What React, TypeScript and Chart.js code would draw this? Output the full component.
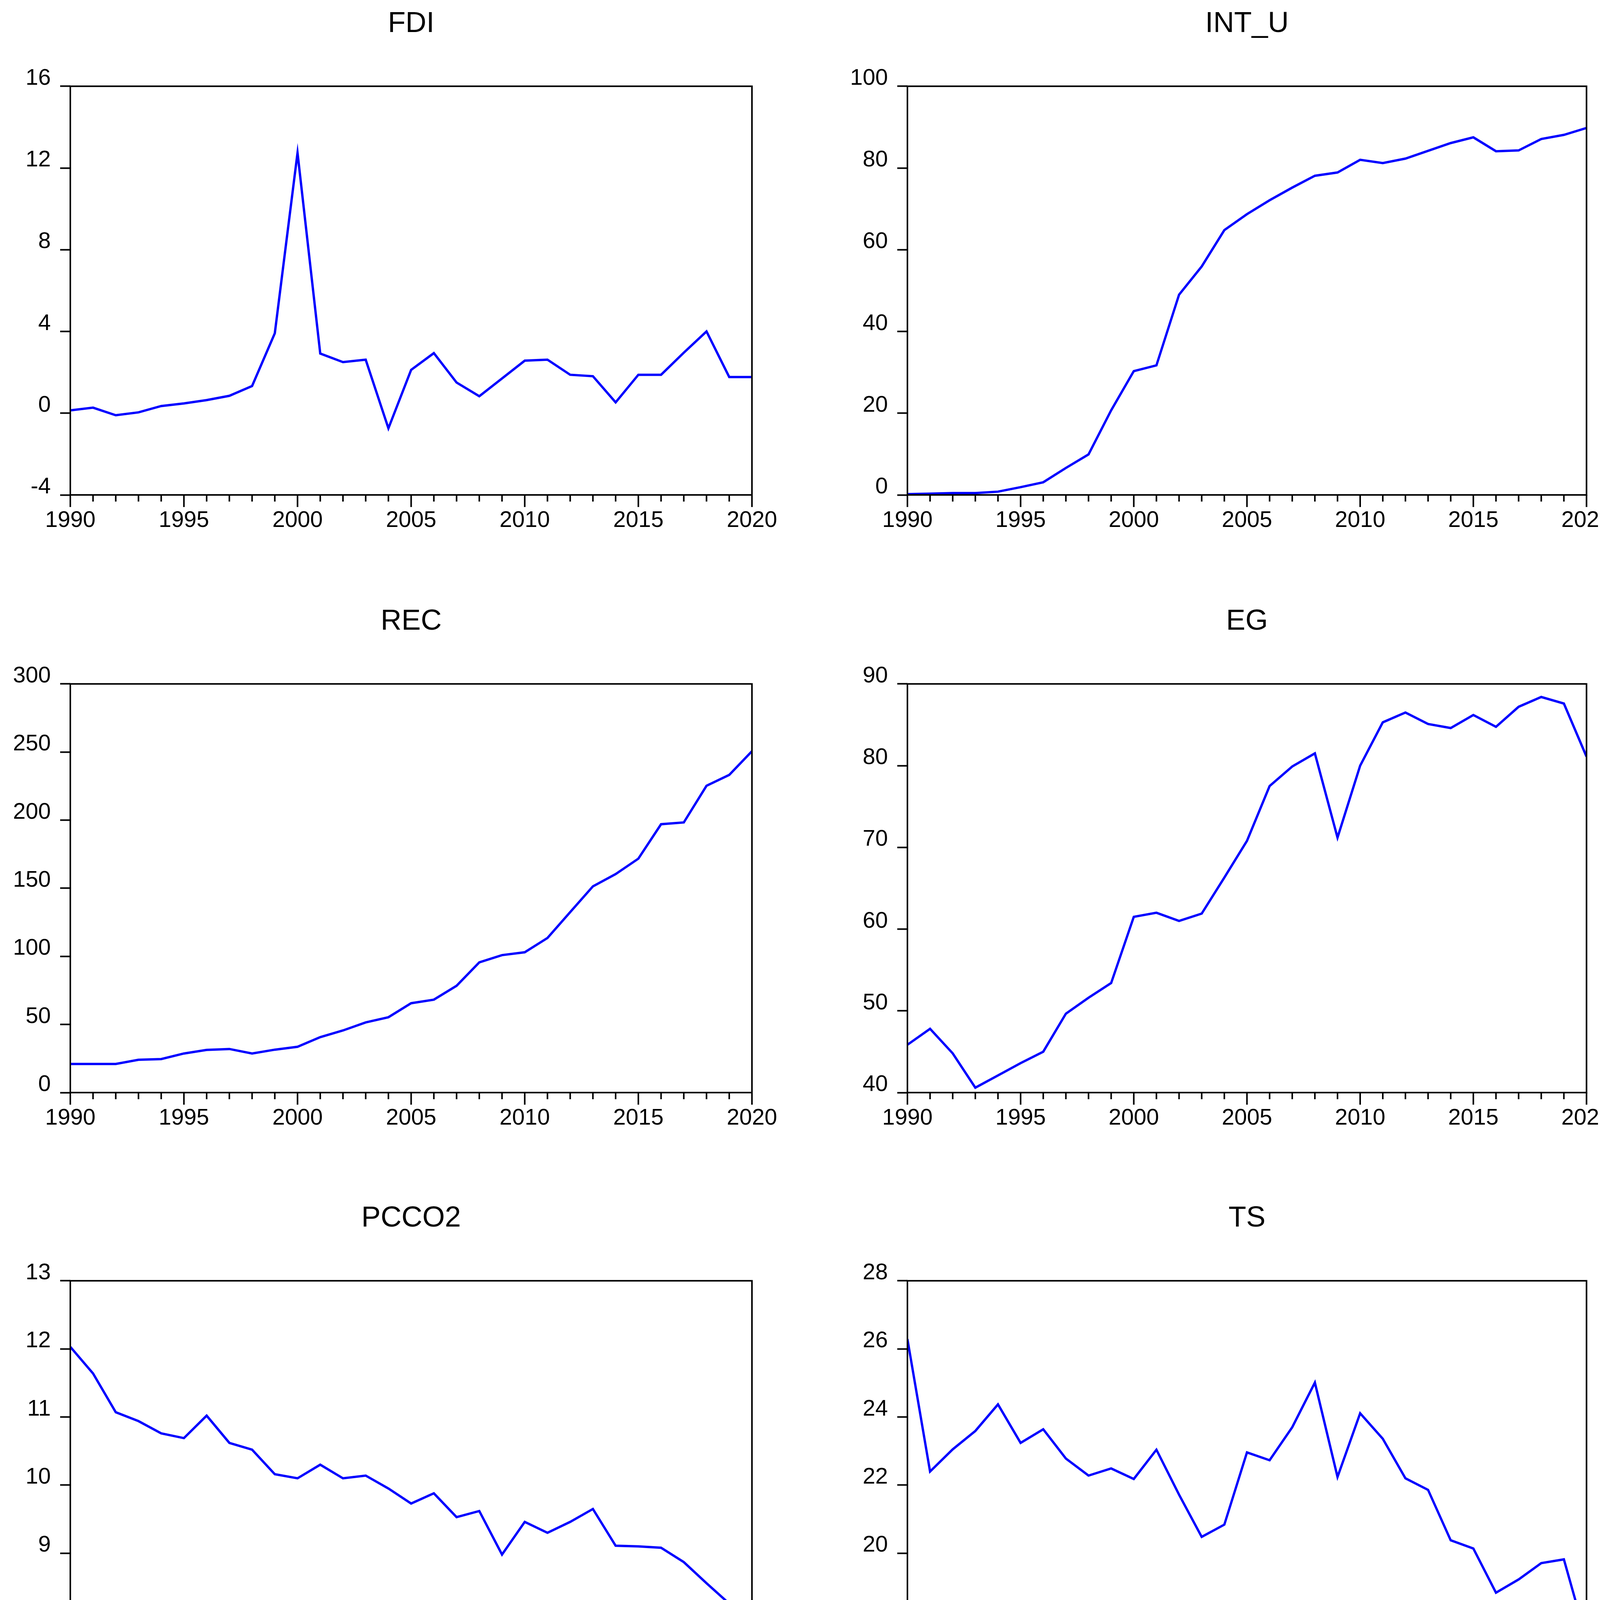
import React, { useEffect, useRef } from "react";
import { Chart, registerables } from "chart.js";

Chart.register(...registerables);

// ---------- data ----------
const YEARS = [
  1990, 1991, 1992, 1993, 1994, 1995, 1996, 1997, 1998, 1999, 2000, 2001, 2002, 2003, 2004, 2005,
  2006, 2007, 2008, 2009, 2010, 2011, 2012, 2013, 2014, 2015, 2016, 2017, 2018, 2019, 2020,
];

const FDI = [
  0.14, 0.27, -0.1, 0.04, 0.35, 0.48, 0.64, 0.85, 1.33, 3.91, 12.74, 2.92, 2.5, 2.62, -0.74, 2.12,
  2.94, 1.5, 0.83, 1.7, 2.57, 2.62, 1.88, 1.81, 0.53, 1.88, 1.88, 2.96, 4.0, 1.77, 1.77,
];
const INT_U = [
  0.2, 0.3, 0.45, 0.45, 0.8, 1.9, 3.1, 6.6, 9.9, 20.7, 30.3, 31.7, 49.0, 55.9, 64.8, 68.7, 72.1,
  75.2, 78.1, 78.9, 82.0, 81.2, 82.3, 84.2, 86.1, 87.5, 84.1, 84.3, 87.1, 88.1, 89.8,
];
const REC = [
  21.0, 21.0, 21.0, 24.1, 24.6, 28.7, 31.3, 32.0, 28.7, 31.5, 33.6, 40.7, 45.6, 51.5, 55.3, 65.6,
  68.2, 78.4, 95.6, 100.9, 103.0, 113.5, 132.5, 151.4, 160.4, 171.7, 197.0, 198.3, 225.2, 233.2,
  250.6,
];
const EG = [
  45.85, 47.8, 44.8, 40.6, 42.1, 43.6, 45.0, 49.65, 51.6, 53.4, 61.5, 62.0, 61.0, 61.9, 66.3, 70.8,
  77.5, 79.9, 81.5, 71.2, 80.0, 85.3, 86.5, 85.1, 84.6, 86.2, 84.75, 87.2, 88.4, 87.6, 81.1,
];
const PCCO2 = [
  12.03, 11.64, 11.07, 10.94, 10.76, 10.69, 11.02, 10.62, 10.52, 10.16, 10.1, 10.3, 10.1, 10.14,
  9.95, 9.73, 9.88, 9.53, 9.62, 8.98, 9.46, 9.3, 9.46, 9.65, 9.11, 9.1, 9.08, 8.87, 8.56, 8.26, 7.95,
];
const TS = [
  26.29, 22.4, 23.05, 23.59, 24.37, 23.24, 23.64, 22.78, 22.28, 22.49, 22.18, 23.04, 21.72, 20.48,
  20.84, 22.96, 22.73, 23.7, 25.01, 22.24, 24.11, 23.36, 22.2, 21.86, 20.38, 20.14, 18.84, 19.23,
  19.71, 19.82, 17.46,
];

const TITLES = ["FDI", "INT_U", "REC", "EG", "PCCO2", "TS"];
const SERIES = [FDI, INT_U, REC, EG, PCCO2, TS];
const Y_MIN = [-4, 0, 0, 40, 7, 16];
const Y_MAX = [16, 100, 300, 90, 13, 28];
const Y_STEP = [4, 20, 50, 10, 1, 2];
const X_MIN = 1990;
const X_MAX = 2020;
const X_LABEL_EVERY = 5;

// ---------- layout ----------
const PAGE_W = 4157;
const PAGE_H = 4455;
const COL_LEFT = [0, 2078];
const COL_WIDTH = [2078, 2079];
const ROW_TOP = [0, 1530, 3058];
const CANVAS_H = 1397;
const Y_AXIS_W = [180, 245];
const PAD_RIGHT = [153, 92];
const X_AXIS_H = 100;
const PAD_BOTTOM = 30;

const FONT_FAMILY = "'Liberation Sans', Arial, Helvetica, sans-serif";
const LINE_COLOR = "#0000FF";

const framePlugin = {
  id: "evFrame",
  afterDatasetsDraw(chart: any) {
    const { ctx, chartArea: a, scales } = chart;
    ctx.save();
    ctx.strokeStyle = "#000";
    ctx.lineWidth = 4;
    ctx.strokeRect(a.left, a.top, a.right - a.left, a.bottom - a.top);
    const xs = scales.x;
    ctx.beginPath();
    for (const t of xs.ticks) {
      const px = xs.getPixelForValue(t.value);
      const len = t.value % X_LABEL_EVERY === 0 ? 31 : 17;
      ctx.moveTo(px, a.bottom);
      ctx.lineTo(px, a.bottom + len);
    }
    ctx.stroke();
    ctx.restore();
  },
};

function Panel({ index }: { index: number }) {
  const ref = useRef<HTMLCanvasElement | null>(null);
  const col = index % 2;
  const row = Math.floor(index / 2);
  const width = COL_WIDTH[col];

  useEffect(() => {
    if (!ref.current) return;
    const values = SERIES[index];
    const points = YEARS.map((y, i) => ({ x: y, y: values[i] }));
    const chart = new Chart(ref.current, {
      type: "line",
      data: {
        datasets: [
          {
            data: points,
            borderColor: LINE_COLOR,
            backgroundColor: LINE_COLOR,
            borderWidth: 6,
            pointRadius: 0,
            tension: 0,
            fill: false,
          },
        ],
      },
      options: {
        animation: false,
        responsive: false,
        devicePixelRatio: 1,
        events: [],
        layout: {
          padding: { left: 0, right: PAD_RIGHT[col], top: 0, bottom: PAD_BOTTOM },
        },
        plugins: {
          legend: { display: false },
          tooltip: { enabled: false },
          title: {
            display: true,
            text: TITLES[index],
            color: "#000",
            fullSize: false,
            font: { family: FONT_FAMILY, size: 74, weight: "normal" },
            padding: { top: 17, bottom: 115 },
          },
        },
        scales: {
          x: {
            type: "linear",
            min: X_MIN,
            max: X_MAX,
            afterFit: (s: any) => {
              s.height = X_AXIS_H;
            },
            border: { display: false },
            grid: { display: true, drawOnChartArea: false, drawTicks: false },
            ticks: {
              stepSize: 1,
              autoSkip: false,
              maxRotation: 0,
              minRotation: 0,
              padding: 31,
              color: "#000",
              font: { family: FONT_FAMILY, size: 58 },
              callback: (v: any) => (Number(v) % X_LABEL_EVERY === 0 ? String(v) : ""),
            },
          },
          y: {
            type: "linear",
            min: Y_MIN[index],
            max: Y_MAX[index],
            afterFit: (s: any) => {
              s.width = Y_AXIS_W[col];
            },
            border: { display: false },
            grid: {
              display: true,
              drawOnChartArea: false,
              drawTicks: true,
              tickLength: 26,
              tickWidth: 4,
              tickColor: "#000",
            },
            ticks: {
              stepSize: Y_STEP[index],
              autoSkip: false,
              padding: 24,
              labelOffset: -20,
              color: "#000",
              font: { family: FONT_FAMILY, size: 58 },
              callback: (v: any) => String(v),
            },
          },
        },
      },
      plugins: [framePlugin],
    });
    return () => chart.destroy();
  }, [index, col]);

  return (
    <div
      style={{
        position: "absolute",
        left: COL_LEFT[col],
        top: ROW_TOP[row],
        width,
        height: CANVAS_H,
      }}
    >
      <canvas
        ref={ref}
        width={width}
        height={CANVAS_H}
        style={{ display: "block", width, height: CANVAS_H }}
      />
    </div>
  );
}

export default function App() {
  return (
    <div
      style={{
        position: "absolute",
        left: 0,
        top: 0,
        width: PAGE_W,
        height: PAGE_H,
        background: "#fff",
        overflow: "hidden",
      }}
    >
      {TITLES.map((_, i) => (
        <Panel key={i} index={i} />
      ))}
    </div>
  );
}
